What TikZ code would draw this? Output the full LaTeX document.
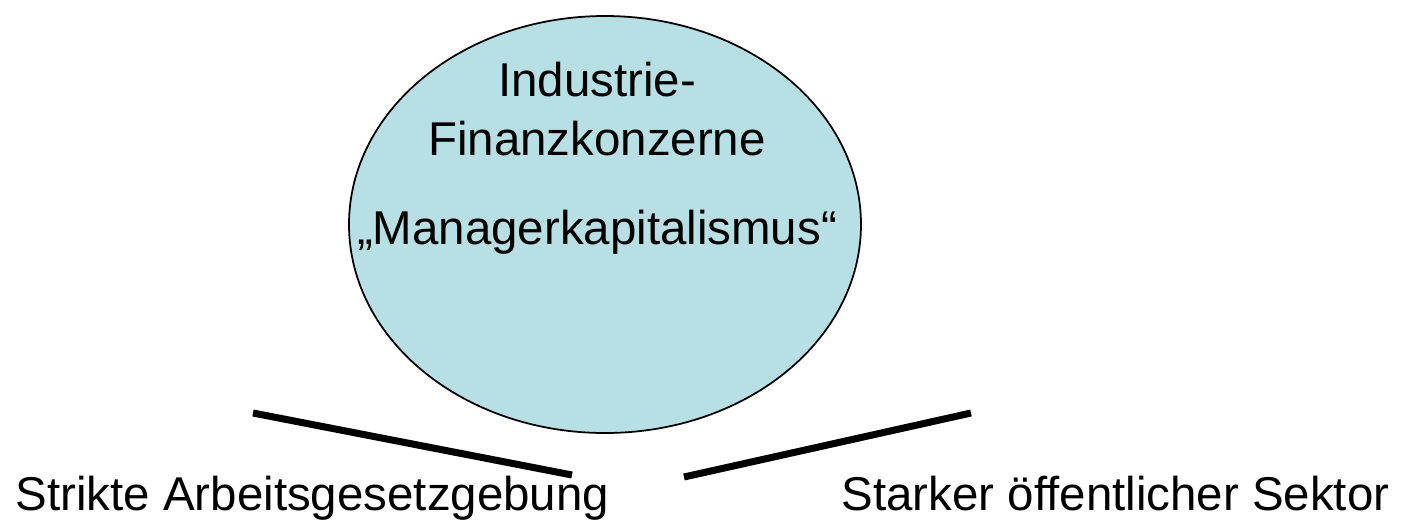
\documentclass[tikz,border=0pt]{standalone}
\usepackage{fontspec}
\setmainfont{Liberation Sans}
\usepackage{tikz}
\usetikzlibrary{shapes,positioning}
\definecolor{kreis}{RGB}{184,223,227}

\tikzset{
  wort/.style={font=\fontsize{13.5}{16}\selectfont, inner sep=0pt},
  balken/.style={line width=2pt, line cap=butt},
}

\begin{document}
\begin{tikzpicture}
\useasboundingbox (0,0) rectangle (14.1,5.27);
\draw [fill=kreis, line width=0.5pt] (6.05,3.025) ellipse [x radius=2.56, y radius=2.085];
\node [wort, anchor=base] (ind) at (5.97,4.31) {Industrie-};
\node [wort, anchor=base] (fin) at (5.97,3.72) {Finanzkonzerne};
\node [wort, anchor=base] (man) at (5.97,2.83) {„Managerkapitalismus“};

% die beiden Saeulen unten
\node [wort, anchor=base west] (arb) at (0.15,0.17) {Strikte Arbeitsgesetzgebung};
\node [wort, anchor=base east] (sek) at (13.90,0.17) {Starker öffentlicher Sektor};

\coordinate (la) at (2.53,1.14);
\coordinate (lb) at (5.72,0.52);
\coordinate (ra) at (6.84,0.50);
\coordinate (rb) at (9.71,1.14);
\draw [balken] (la) -- (lb);
\draw [balken] (ra) -- (rb);
\end{tikzpicture}
\end{document}
